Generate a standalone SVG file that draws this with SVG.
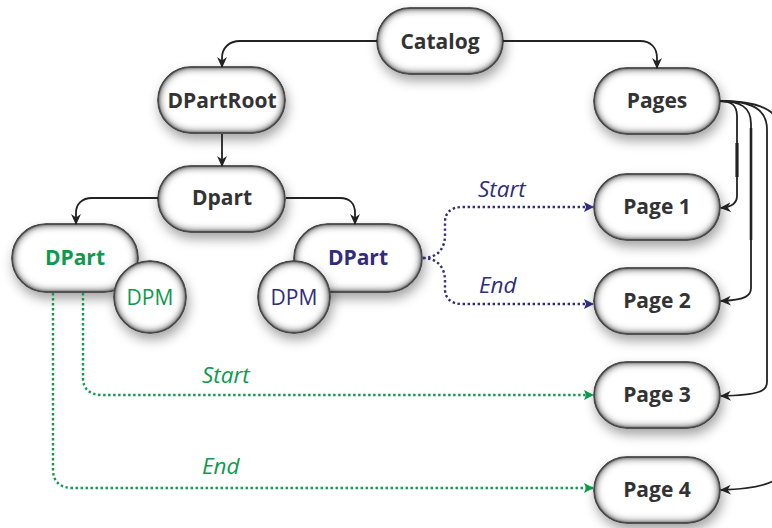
<svg xmlns="http://www.w3.org/2000/svg" width="772" height="528" viewBox="0 0 772 528">
  <defs>
    <style>
      .node { fill: #ffffff; stroke: #3e3e3e; stroke-width: 1.5; filter: url(#pill); }
      .lbl { font-family: "Open Sans", "Liberation Sans", sans-serif; font-size: 21px; font-weight: bold; fill: #333333; text-anchor: middle; }
      .lbl-g { fill: #0e9a4c; }
      .lbl-b { fill: #302c7e; }
      .dpm { font-family: "Open Sans", "Liberation Sans", sans-serif; font-size: 21px; text-anchor: middle; }
      .tag { font-family: "Open Sans", "Liberation Sans", sans-serif; font-size: 22.5px; font-style: italic; }
      .edge { fill: none; stroke: #222222; stroke-width: 1.8; marker-end: url(#arr); }
      .dot-b { fill: none; stroke: #302c7e; stroke-width: 2.4; stroke-dasharray: 2.4 2.6; marker-end: url(#arr-b); }
      .dot-g { fill: none; stroke: #0e9a4c; stroke-width: 2.4; stroke-dasharray: 2.4 2.6; marker-end: url(#arr-g); }
    </style>
    <!-- soft drop shadow plus inner edge shading for the pill and circle shapes -->
    <filter id="pill" x="-25%" y="-40%" width="150%" height="190%">
      <feGaussianBlur in="SourceAlpha" stdDeviation="6" result="sb"/>
      <feOffset in="sb" dx="2" dy="6" result="so"/>
      <feFlood flood-color="#000000" flood-opacity="0.36"/>
      <feComposite in2="so" operator="in" result="shadow"/>
      <feGaussianBlur in="SourceAlpha" stdDeviation="5" result="ib"/>
      <feComposite in="SourceAlpha" in2="ib" operator="arithmetic" k2="2.2" k3="-2.2" result="ring"/>
      <feFlood flood-color="#4a4a4a"/>
      <feComposite in2="ring" operator="in" result="inner"/>
      <feMerge>
        <feMergeNode in="shadow"/>
        <feMergeNode in="SourceGraphic"/>
        <feMergeNode in="inner"/>
      </feMerge>
    </filter>
    <marker id="arr" viewBox="0 0 10 10" refX="9" refY="5" markerWidth="11" markerHeight="11" markerUnits="userSpaceOnUse" orient="auto">
      <path d="M0,0.5 L10,5 L0,9.5 L3,5 z" fill="#222222"/>
    </marker>
    <marker id="arr-b" viewBox="0 0 10 10" refX="9" refY="5" markerWidth="10" markerHeight="10" markerUnits="userSpaceOnUse" orient="auto">
      <path d="M0,0 L10,5 L0,10 L2,5 z" fill="#302c7e"/>
    </marker>
    <marker id="arr-g" viewBox="0 0 10 10" refX="9" refY="5" markerWidth="10" markerHeight="10" markerUnits="userSpaceOnUse" orient="auto">
      <path d="M0,0 L10,5 L0,10 L2,5 z" fill="#0e9a4c"/>
    </marker>
  </defs>

  <rect width="772" height="528" fill="#ffffff"/>

  <!-- nodes -->
  <g id="catalog">
    <rect class="node" x="377" y="8" width="126" height="66" rx="33"/>
    <text class="lbl" x="440" y="49">Catalog</text>
  </g>
  <g id="dpartroot">
    <rect class="node" x="158" y="67" width="127" height="66" rx="33"/>
    <text class="lbl" x="222" y="108">DPartRoot</text>
  </g>
  <g id="pages">
    <rect class="node" x="594" y="68" width="126" height="66" rx="33"/>
    <text class="lbl" x="657" y="108">Pages</text>
  </g>
  <g id="dpart">
    <rect class="node" x="158" y="166" width="127" height="66" rx="33"/>
    <text class="lbl" x="222" y="205">Dpart</text>
  </g>
  <g id="page1">
    <rect class="node" x="594" y="174" width="126" height="66" rx="33"/>
    <text class="lbl" x="657" y="214">Page 1</text>
  </g>
  <g id="dpart-green">
    <rect class="node" x="12" y="224" width="126" height="68" rx="34"/>
    <text class="lbl lbl-g" x="75" y="265">DPart</text>
  </g>
  <g id="dpm-green">
    <circle class="node" cx="150" cy="297" r="36"/>
    <text class="dpm lbl-g" x="150" y="305">DPM</text>
  </g>
  <g id="dpart-blue">
    <rect class="node" x="294" y="224" width="128" height="68" rx="34"/>
    <text class="lbl lbl-b" x="358" y="265">DPart</text>
  </g>
  <g id="dpm-blue">
    <circle class="node" cx="294" cy="297" r="36"/>
    <text class="dpm lbl-b" x="294" y="305">DPM</text>
  </g>
  <g id="page2">
    <rect class="node" x="594" y="268" width="126" height="66" rx="33"/>
    <text class="lbl" x="657" y="308">Page 2</text>
  </g>
  <g id="page3">
    <rect class="node" x="594" y="362" width="126" height="66" rx="33"/>
    <text class="lbl" x="657" y="402">Page 3</text>
  </g>
  <g id="page4">
    <rect class="node" x="594" y="457" width="126" height="66" rx="33"/>
    <text class="lbl" x="657" y="497">Page 4</text>
  </g>

  <!-- connectors -->
  <g id="connectors">
    <path class="edge" d="M377,41 L240,41 C229,41 222,48 222,58 L222,67"/>
    <path class="edge" d="M503,41 L640,41 C651,41 657,48 657,58 L657,68"/>
    <path class="edge" d="M222,134 L222,166"/>
    <path class="edge" d="M158,198 L92,198 C82,198 76,204 76,213 L76,224"/>
    <path class="edge" d="M286,198 L340,198 C350,198 355,204 355,213 L355,224"/>

    <path class="edge" d="M720,101 C731,101 737,105 737,116 L737,196 C737,203 732,207 721,208"/>
    <path class="edge" d="M720,101 C740,101 751,107 751,124 L751,288 C751,296 745,300 721,301"/>
    <path class="edge" d="M720,101 C752,101 767,109 767,130 L767,382 C767,391 760,395 721,396"/>
    <path class="edge" d="M720,101 C764,101 782,112 782,138 L782,466 C782,480 770,488 721,490"/>
    <path d="M737,143 L737,177" stroke="#222222" stroke-width="3.2" fill="none"/>
    <path d="M751,128 L751,240" stroke="#222222" stroke-width="2.6" fill="none"/>

    <path class="dot-b" d="M423,258 C436,258 445,250 445,235 L445,222 C445,212 452,207 462,207 L593,207"/>
    <path class="dot-b" d="M423,258 C436,258 445,266 445,281 L445,289 C445,299 452,304 462,304 L593,304"/>
    <path class="dot-g" d="M83,293 L83,378 C83,389 90,395 102,395 L593,395"/>
    <path class="dot-g" d="M53,293 L53,470 C53,481 60,488 72,488 L593,488"/>

    <text class="tag lbl-b" x="478" y="197">Start</text>
    <text class="tag lbl-b" x="479" y="293">End</text>
    <text class="tag lbl-g" x="202" y="383">Start</text>
    <text class="tag lbl-g" x="202" y="474">End</text>
  </g>
</svg>
